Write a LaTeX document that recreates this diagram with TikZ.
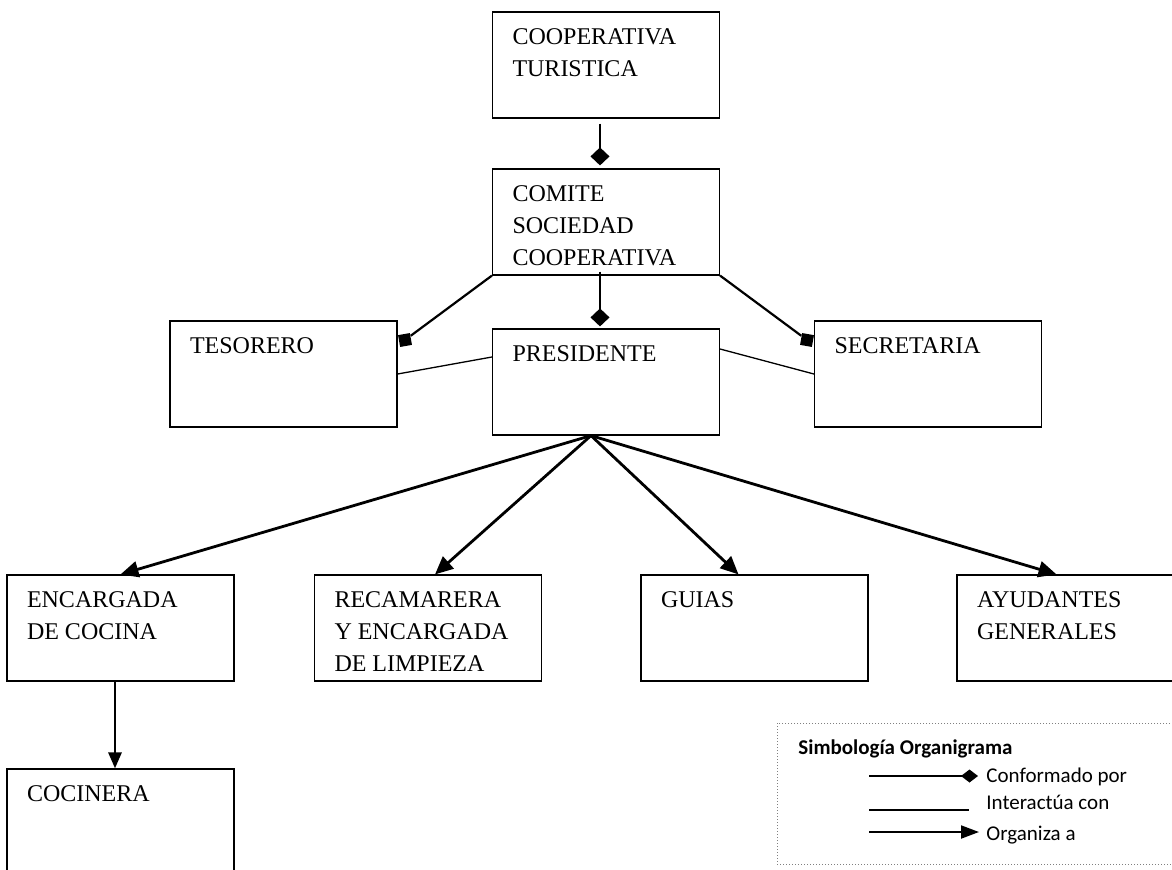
\documentclass[tikz,border=0pt]{standalone}
\usepackage{fontspec}
\setmainfont{Liberation Serif}
\newfontfamily\calibri{Carlito}
\usepackage{tikz}
\usetikzlibrary{arrows.meta}

\newcommand{\cargotext}[1]{\parbox[t][53pt][t]{93.5pt}{\rule{0pt}{16pt}#1}}

\tikzset{
  cargo/.style={draw, line width=0.6pt, inner xsep=10pt, inner ysep=0pt,
    minimum width=113.5pt, minimum height=53pt, font=\fontsize{12}{16}\selectfont},
  conforma/.style={line width=1pt, -{Diamond[length=9pt,width=9.5pt]}},
  enlace/.style={line width=1.1pt},
  cuadro/.style={fill, inner sep=0pt, minimum size=6pt},
  interactua/.style={line width=0.65pt},
  organiza/.style={line width=1.4pt, -{Triangle[length=9pt,width=8pt]}},
  simb/.style={inner sep=0pt, anchor=base west, font=\calibri\fontsize{10.5}{12}\selectfont}
}

\begin{document}
\begin{tikzpicture}[x=0.5pt, y=-0.5pt]
  \useasboundingbox (0,0) rectangle (1172,869);

  % Cargos del organigrama
  \node[cargo] (coop) at (606,65) {\cargotext{COOPERATIVA\\TURISTICA}};
  \node[cargo] (comite) at (606,222) {\cargotext{COMITE\\SOCIEDAD\\COOPERATIVA}};
  \node[cargo] (pres) at (606,382) {\cargotext{PRESIDENTE}};
  \node[cargo] (tes) at (283.5,374) {\cargotext{TESORERO}};
  \node[cargo] (sec) at (928,374) {\cargotext{SECRETARIA}};
  \node[cargo] (enc) at (120.5,628) {\cargotext{ENCARGADA\\DE COCINA}};
  \node[cargo] (rec) at (428,628) {\cargotext{RECAMARERA\\Y ENCARGADA\\DE LIMPIEZA}};
  \node[cargo] (guias) at (754.5,628) {\cargotext{GUIAS}};
  \node[cargo] (ayu) at (1070.5,628) {\cargotext{AYUDANTES\\GENERALES}};
  \node[cargo] (coc) at (120.5,822) {\cargotext{COCINERA}};

  % Conformado por
  \draw[conforma, shorten <=2.5pt, shorten >=1.5pt] ([xshift=-3pt]coop.south) -- ([xshift=-3pt]comite.north);
  \draw[conforma, shorten <=-2pt, shorten >=1pt] ([xshift=-3pt]comite.south) -- ([xshift=-3pt]pres.north);
  \node[cuadro, rotate=10] (tq) at (405,340) {};
  \node[cuadro, rotate=-10] (sq) at (807,340) {};
  \draw[enlace] (comite.south west) -- (tq);
  \draw[enlace] (comite.south east) -- (sq);

  % Interactua con
  \draw[interactua] ([yshift=12.5pt]pres.west) -- (tes.east);
  \draw[interactua] ([yshift=16.5pt]pres.east) -- (sec.west);

  % Organiza a
  \coordinate (fan) at ([xshift=-7.5pt]pres.south);
  \draw[organiza] (fan) -- (enc.north);
  \draw[organiza] (fan) -- ([xshift=3.5pt]rec.north);
  \draw[organiza] (fan) -- ([xshift=-8pt]guias.north);
  \draw[organiza] (fan) -- ([xshift=-7pt]ayu.north);
  \draw[organiza, -{Triangle[length=8pt,width=6.5pt]}] ([xshift=-2.75pt]enc.south) -- ([xshift=-2.75pt]coc.north);

  % Simbologia
  \draw[draw=gray, densely dotted, line width=0.5pt] (777,723) rectangle (1185,864);
  \node[simb, font=\calibri\bfseries\fontsize{10.5}{12}\selectfont] (titulo) at (798,754) {Simbología Organigrama};
  \node[simb] (t1) at (986,782) {Conformado por};
  \node[simb] (t2) at (986,809) {Interactúa con};
  \node[simb] (t3) at (986,840) {Organiza a};
  \coordinate (l1a) at (869,776);
  \coordinate (l1b) at (978,776);
  \coordinate (l2a) at (869,810);
  \coordinate (l2b) at (969,810);
  \coordinate (l3a) at (869,832);
  \coordinate (l3b) at (979,832);
  \draw[line width=1pt, -{Diamond[length=8.5pt,width=6.5pt]}] (l1a) -- (l1b);
  \draw[interactua] (l2a) -- (l2b);
  \draw[line width=1pt, -{Triangle[length=9pt,width=6.5pt]}] (l3a) -- (l3b);
\end{tikzpicture}
\end{document}
